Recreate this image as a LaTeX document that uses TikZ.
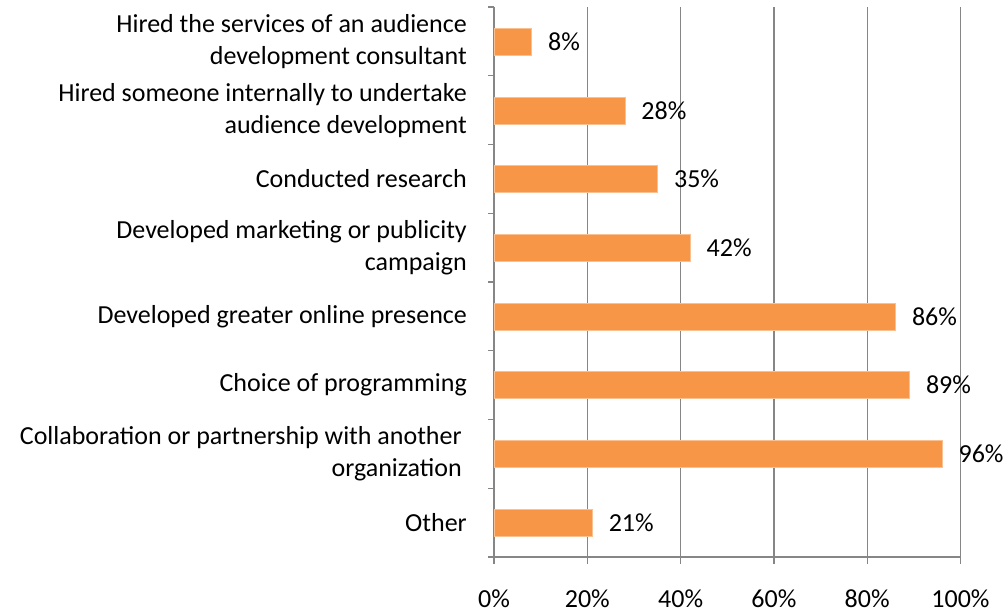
\documentclass[tikz,border=0pt]{standalone}
\usepackage{fontspec}
\setmainfont{Carlito}
\usepackage{tikz}
\usetikzlibrary{positioning}
\definecolor{barfill}{HTML}{F79646}
\definecolor{gridgray}{HTML}{868686}
\tikzset{%
	bar/.style = {name = #1, draw = barfill!60!white, fill = barfill, line width = 0.6pt, anchor = west, minimum height = 27pt, inner sep = 0pt},
	cat/.style = {align = right, anchor = east, inner sep = 0pt, font = \fontsize{26}{32}\selectfont},
	val/.style = {anchor = west, inner sep = 0pt, font = \fontsize{26}{32}\selectfont},
	tck/.style = {anchor = base, inner sep = 0pt, font = \fontsize{26}{32}\selectfont},
	grid/.style = {draw = gridgray, line width = 1.3pt}
}
\begin{document}
\begin{tikzpicture}[x=1pt, y=-1pt]
	\useasboundingbox (0,0) rectangle (1004,612);
	% gridlines and ticks
	\foreach \p in {1,...,5} \draw [grid] (494+93.3*\p,7) -- (494+93.3*\p,557);
	\foreach \k in {0,...,8} \draw [grid] (488,7+68.75*\k) -- (494,7+68.75*\k);
	\foreach \p in {0,...,5} \draw [grid] (494+93.3*\p,557) -- (494+93.3*\p,564);
	\coordinate (top) at (494,7);
	\coordinate (orig) at (494,557);
	\coordinate (end) at (960.5,557);
	\draw [grid] (top) -- (orig) -- (end);
	% bars
	\node [bar = b1, minimum width = 37.3pt] at (494,42) {};
	\node [bar = b2, minimum width = 130.6pt] at (494,110.5) {};
	\node [bar = b3, minimum width = 163.3pt] at (494,179) {};
	\node [bar = b4, minimum width = 195.9pt] at (494,248) {};
	\node [bar = b5, minimum width = 401.2pt] at (494,316.5) {};
	\node [bar = b6, minimum width = 415.2pt] at (494,385) {};
	\node [bar = b7, minimum width = 447.8pt] at (494,454) {};
	\node [bar = b8, minimum width = 98pt] at (494,522.5) {};
	% values
	\node [val, right = 16pt of b1.east] (v1) {8\%};
	\node [val, right = 16pt of b2.east] (v2) {28\%};
	\node [val, right = 16pt of b3.east] (v3) {35\%};
	\node [val, right = 16pt of b4.east] (v4) {42\%};
	\node [val, right = 16pt of b5.east] (v5) {86\%};
	\node [val, right = 16pt of b6.east] (v6) {89\%};
	\node [val, right = 16pt of b7.east] (v7) {96\%};
	\node [val, right = 16pt of b8.east] (v8) {21\%};
	% categories
	\node [cat, left = 27pt of b1.west] (c1) {Hired the services of an audience\\development consultant};
	\node [cat, left = 27pt of b2.west] (c2) {Hired someone internally to undertake\\audience development};
	\node [cat, left = 27pt of b3.west] (c3) {Conducted research};
	\node [cat, left = 27pt of b4.west] (c4) {Developed marketing or publicity\\campaign};
	\node [cat, left = 27pt of b5.west] (c5) {Developed greater online presence};
	\node [cat, left = 27pt of b6.west] (c6) {Choice of programming};
	\node [cat, left = 32pt of b7.west] (c7) {Collaboration or partnership with another\\organization};
	\node [cat, left = 27pt of b8.west] (c8) {Other};
	% axis labels
	\node [tck] (t0) at (494,607) {0\%};
	\node [tck] (t1) at (587.3,607) {20\%};
	\node [tck] (t2) at (680.6,607) {40\%};
	\node [tck] (t3) at (773.9,607) {60\%};
	\node [tck] (t4) at (867.2,607) {80\%};
	\node [tck] (t5) at (960.5,607) {100\%};
\end{tikzpicture}
\end{document}
